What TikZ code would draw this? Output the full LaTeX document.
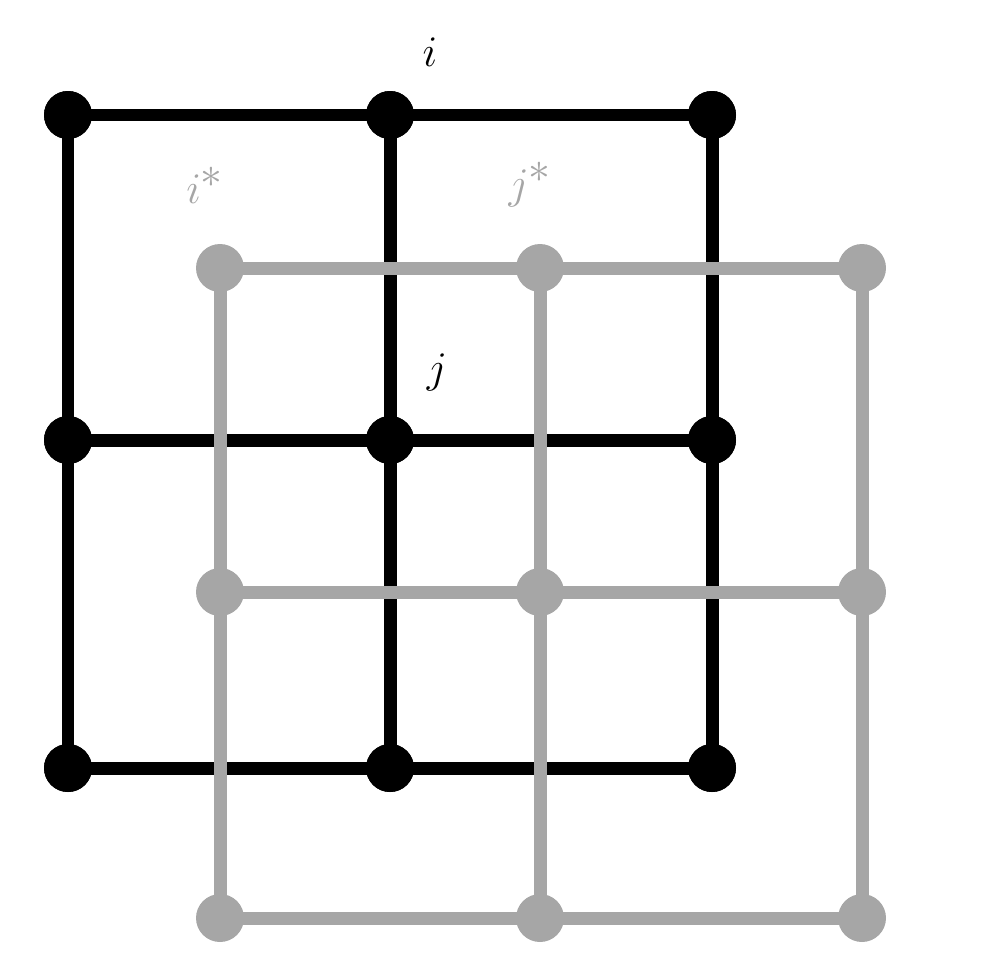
\documentclass[tikz,border=0pt]{standalone}
\begin{document}
\begin{tikzpicture}[x=0.02cm,y=-0.02cm,
  gridline/.style={line width=0.26cm},
  dot/.style={circle,inner sep=0pt,minimum size=0.96cm},
  lbl/.style={font=\fontsize{40}{48}\selectfont}]
\definecolor{lg}{HTML}{A6A6A6}
\useasboundingbox (0,0) rectangle (1000,953);
% black grid
\foreach \x/\c in {68/a,390/b,712/c}{
  \foreach \y/\r in {115/1,440/2,768/3}{
    \node[dot,fill=black] (B\c\r) at (\x,\y) {};}}
\foreach \c in {a,b,c}{\draw[gridline] (B\c1.center) -- (B\c3.center);}
\foreach \r in {1,2,3}{\draw[gridline] (Ba\r.center) -- (Bc\r.center);}
\foreach \x/\c in {68/a,390/b,712/c}{
  \foreach \y/\r in {115/1,440/2,768/3}{
    \fill (\x,\y) circle (0.48cm);}}
% gray grid
\foreach \x/\c in {220/a,540/b,862/c}{
  \foreach \y/\r in {268/1,592/2,918/3}{
    \node[dot] (G\c\r) at (\x,\y) {};}}
\foreach \c in {a,b,c}{\draw[gridline,lg] (G\c1.center) -- (G\c3.center);}
\foreach \r in {1,2,3}{\draw[gridline,lg] (Ga\r.center) -- (Gc\r.center);}
\foreach \x/\c in {220/a,540/b,862/c}{
  \foreach \y/\r in {268/1,592/2,918/3}{
    \fill[lg] (\x,\y) circle (0.48cm);}}
% labels
\node[lbl] (li) at (430,52) {$i$};
\node[lbl] (lj) at (437,372) {$j$};
\node[lbl,text=lg] (lis) at (205,185) {$i^*$};
\node[lbl,text=lg] (ljs) at (530,185) {$j^*$};
\end{tikzpicture}
\end{document}
